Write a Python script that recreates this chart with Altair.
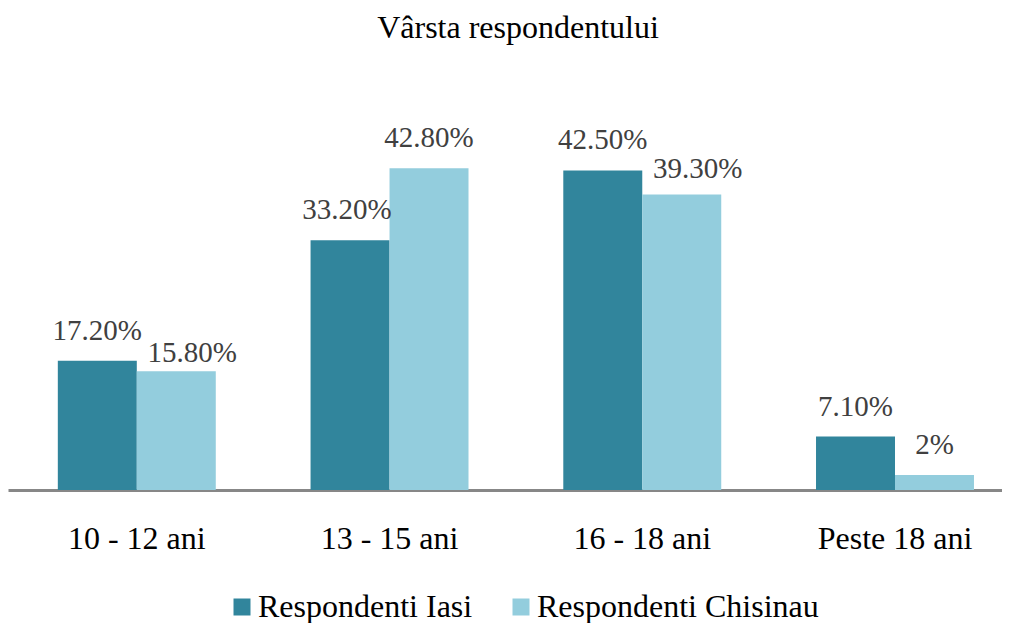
import altair as alt
import pandas as pd

categories = ["10 - 12 ani", "13 - 15 ani", "16 - 18 ani", "Peste 18 ani"]
series = ["Respondenti Iasi", "Respondenti Chisinau"]
iasi_values = [17.2, 33.2, 42.5, 7.1]
chisinau_values = [15.8, 42.8, 39.3, 2]
iasi_labels = ["17.20%", "33.20%", "42.50%", "7.10%"]
chisinau_labels = ["15.80%", "42.80%", "39.30%", "2%"]
colors = ["#31859C", "#93CDDD"]

rows = []
for c, v, l in zip(categories, iasi_values, iasi_labels):
    rows.append({"cat": c, "series": series[0], "value": v, "label": l})
for c, v, l in zip(categories, chisinau_values, chisinau_labels):
    rows.append({"cat": c, "series": series[1], "value": v, "label": l})
df = pd.DataFrame(rows)

FONT = "Liberation Serif"

x_scale = alt.Scale(paddingInner=0.375, paddingOuter=0.154, align=0.64, round=False)
x_enc = alt.X(
    "cat:N",
    sort=categories,
    title=None,
    scale=x_scale,
    axis=alt.Axis(
        labelAngle=0,
        labelFont=FONT,
        labelFontSize=32,
        labelColor="#000000",
        labelPadding=33,
        ticks=False,
        domainColor="#878787",
        domainWidth=3,
        grid=False,
    ),
)
xoff = alt.XOffset("series:N", sort=series,
                   scale=alt.Scale(paddingInner=0, paddingOuter=0, round=False))
y_enc = alt.Y("value:Q", scale=alt.Scale(domain=[0, 50], nice=False), axis=None)

bars = alt.Chart(df).mark_bar().encode(
    x=x_enc,
    xOffset=xoff,
    y=y_enc,
    color=alt.Color(
        "series:N",
        sort=series,
        scale=alt.Scale(domain=series, range=colors),
        legend=alt.Legend(
            title=None,
            orient="none",
            direction="horizontal",
            legendX=218,
            legendY=477,
            symbolType="square",
            symbolSize=289,
            symbolStrokeWidth=0,
            labelFont=FONT,
            labelFontSize=32,
            labelColor="#000000",
            labelOffset=0,
            columnPadding=32,
            labelLimit=400,
        ),
    ),
)

# label placement tweaks (Excel nudges overlapping labels): (dx, dy)
nudges = {"15.80%": (16, -9), "39.30%": (16, -16), "33.20%": (-3, -21)}


def label_layer(dx, dy, filt):
    return (
        alt.Chart(df)
        .transform_filter(filt)
        .mark_text(font=FONT, fontSize=29, color="#404040",
                   baseline="alphabetic", dx=dx, dy=dy)
        .encode(
            x=alt.X("cat:N", sort=categories, scale=x_scale),
            xOffset=xoff,
            y=y_enc,
            text="label:N",
        )
    )


text_layers = [
    label_layer(0, -21, {"not": alt.FieldOneOfPredicate(field="label", oneOf=list(nudges))})
]
for lab, (dx, dy) in nudges.items():
    text_layers.append(label_layer(dx, dy, alt.FieldEqualPredicate(field="label", equal=lab)))

chart = (
    alt.layer(bars, *text_layers)
    .properties(
        width=994,
        height=376,
        background="white",
        padding={"left": 0, "right": 0, "top": 106, "bottom": 133},
        autosize=alt.AutoSizeParams(type="none"),
        title=alt.TitleParams(
            "Vârsta respondentului",
            font=FONT,
            fontSize=32,
            fontWeight="normal",
            color="#000000",
            anchor="middle",
            dx=13,
            offset=69,
        ),
    )
    .configure_view(strokeWidth=0, stroke="transparent")
    .configure_text(font=FONT)
)

chart.save("out.html", embed_options={"renderer": "svg", "actions": False})
